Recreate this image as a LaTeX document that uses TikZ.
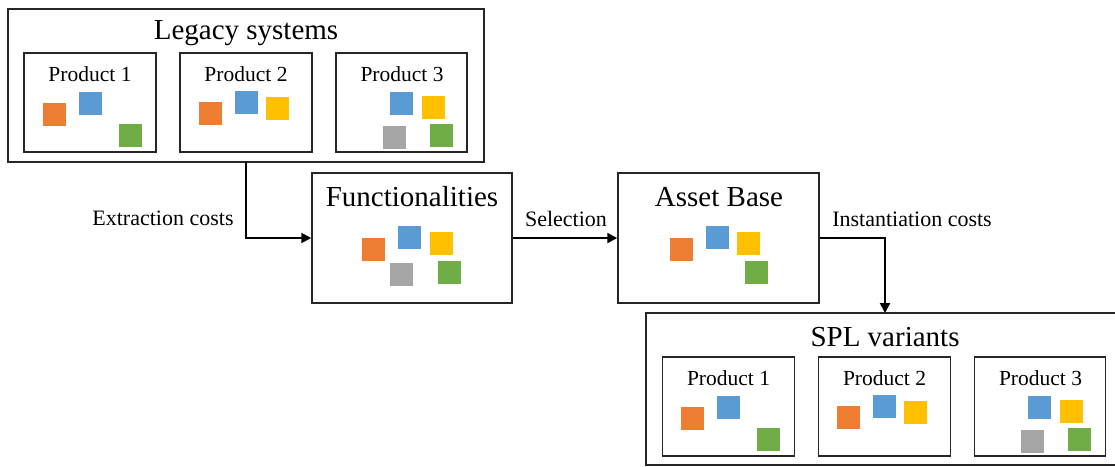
\documentclass[tikz,border=0pt]{standalone}
\usepackage{fontspec}
\setmainfont{Liberation Serif}
\usetikzlibrary{arrows.meta}
\definecolor{cOr}{HTML}{ED7D31}
\definecolor{cBl}{HTML}{5B9BD5}
\definecolor{cYe}{HTML}{FFC000}
\definecolor{cGr}{HTML}{A5A5A5}
\definecolor{cGn}{HTML}{70AD47}
\tikzset{
  box/.style={draw=black!85, line width=1.5pt, fill=white},
  sq/.style={minimum size=23pt, inner sep=0pt, draw=none},
  title/.style={font=\fontsize{29}{31}\selectfont, inner sep=0pt},
  plabel/.style={font=\fontsize{21.5}{23}\selectfont, inner sep=0pt},
  elabel/.style={font=\fontsize{22}{24}\selectfont, inner sep=0pt},
  conn/.style={line width=2pt, -{Triangle[length=10pt,width=10pt]}},
}
\begin{document}
\begin{tikzpicture}[x=1pt,y=-1pt]
\useasboundingbox (0,0) rectangle (1115,466);
% Legacy systems
\draw[box] (8,9) rectangle (484,162);
\node[title] (legtitle) at (246,33) {Legacy systems};
\coordinate (legbot) at (246,162);
\draw[box] (24,53) rectangle (156,152);
\draw[box] (180,53) rectangle (312,152);
\draw[box] (336,53) rectangle (467,152);
\node[plabel] (lp1) at (90,74) {Product 1};
\node[plabel] (lp2) at (246,74) {Product 2};
\node[plabel] (lp3) at (402,74) {Product 3};
\node[sq,fill=cOr] (l1o) at (54.5,114.5) {};
\node[sq,fill=cBl] (l1b) at (90.2,103.5) {};
\node[sq,fill=cGn] (l1g) at (130.5,135.5) {};
\node[sq,fill=cOr] (l2o) at (210.5,113.5) {};
\node[sq,fill=cBl] (l2b) at (246.5,102.5) {};
\node[sq,fill=cYe] (l2y) at (277.5,108.5) {};
\node[sq,fill=cBl] (l3b) at (401.5,103.5) {};
\node[sq,fill=cYe] (l3y) at (433.5,107.5) {};
\node[sq,fill=cGr] (l3r) at (394.5,137.5) {};
\node[sq,fill=cGn] (l3g) at (441.5,135.5) {};
% Functionalities
\node[box, minimum width=200pt, minimum height=130pt, inner sep=0pt] (func) at (412,238) {};
\node[title] (functitle) at (412,197) {Functionalities};
\node[sq,fill=cOr] (fo) at (373.5,249.5) {};
\node[sq,fill=cBl] (fb) at (409.5,237.5) {};
\node[sq,fill=cYe] (fy) at (441.5,243.5) {};
\node[sq,fill=cGr] (fr) at (401.5,274.5) {};
\node[sq,fill=cGn] (fg) at (449.5,272.5) {};
% Asset Base
\node[box, minimum width=201pt, minimum height=130pt, inner sep=0pt] (asset) at (718.5,238) {};
\node[title] (assettitle) at (719,197) {Asset Base};
\node[sq,fill=cOr] (ao) at (681.5,249.5) {};
\node[sq,fill=cBl] (ab) at (717.5,237.5) {};
\node[sq,fill=cYe] (ay) at (748.5,243.5) {};
\node[sq,fill=cGn] (ag) at (756.5,272.5) {};
% SPL variants
\draw[box] (646,313) rectangle (1122,465);
\node[title] (spltitle) at (885,337) {SPL variants};
\coordinate (spltop) at (885,313);
\draw[box] (662.5,357) rectangle (794.5,456);
\draw[box] (818.5,357) rectangle (950.5,456);
\draw[box] (974.5,357) rectangle (1105.5,456);
\node[plabel] (sp1) at (728.5,378) {Product 1};
\node[plabel] (sp2) at (884.5,378) {Product 2};
\node[plabel] (sp3) at (1040.5,378) {Product 3};
\node[sq,fill=cOr] (s1o) at (692.9,418.2) {};
\node[sq,fill=cBl] (s1b) at (728.6,407.2) {};
\node[sq,fill=cGn] (s1g) at (768.9,439.2) {};
\node[sq,fill=cOr] (s2o) at (848.9,417.2) {};
\node[sq,fill=cBl] (s2b) at (884.9,406.2) {};
\node[sq,fill=cYe] (s2y) at (915.9,412.2) {};
\node[sq,fill=cBl] (s3b) at (1039.9,407.2) {};
\node[sq,fill=cYe] (s3y) at (1071.9,411.2) {};
\node[sq,fill=cGr] (s3r) at (1032.9,441.2) {};
\node[sq,fill=cGn] (s3g) at (1079.9,439.2) {};
% Connectors
\draw[conn] (legbot) |- (func.west);
\draw[conn] (func.east) -- (asset.west);
\draw[conn] (asset.east) -| (spltop);
\node[elabel] (extr) at (163,218) {Extraction costs};
\node[elabel] (sel) at (566,219) {Selection};
\node[elabel] (inst) at (912,219) {Instantiation costs};
\end{tikzpicture}
\end{document}
